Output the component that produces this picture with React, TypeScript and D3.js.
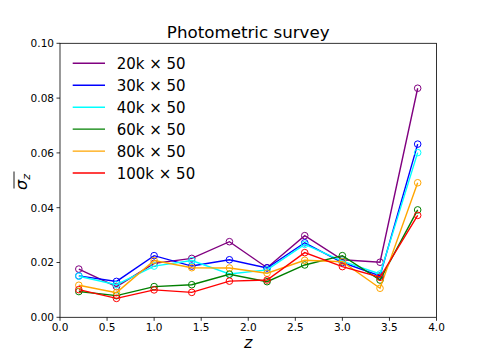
import React from "react";
import * as d3 from "d3";

const zValues = [0.2, 0.6, 1.0, 1.4, 1.8, 2.2, 2.6, 3.0, 3.4, 3.8];
const seriesNames = ["20k × 50", "30k × 50", "40k × 50", "60k × 50", "80k × 50", "100k × 50"];
const seriesColors = ["#800080", "#0000ff", "#00ffff", "#008000", "#ffa500", "#ff0000"];
const s20k = [0.0176, 0.0112, 0.0197, 0.0215, 0.0276, 0.0181, 0.0298, 0.0210, 0.0201, 0.0836];
const s30k = [0.0151, 0.0131, 0.0225, 0.0187, 0.0210, 0.0180, 0.0272, 0.0200, 0.0151, 0.0632];
const s40k = [0.0150, 0.0119, 0.0187, 0.0207, 0.0158, 0.0173, 0.0266, 0.0205, 0.0158, 0.0601];
const s60k = [0.0094, 0.0079, 0.0112, 0.0119, 0.0157, 0.0130, 0.0191, 0.0225, 0.0136, 0.0392];
const s80k = [0.0117, 0.0090, 0.0207, 0.0181, 0.0180, 0.0161, 0.0208, 0.0203, 0.0106, 0.0491];
const s100k = [0.0101, 0.0069, 0.0100, 0.0091, 0.0132, 0.0136, 0.0236, 0.0185, 0.0146, 0.0372];
const allSeries = [s20k, s30k, s40k, s60k, s80k, s100k];
const xTicks = [0, 0.5, 1.0, 1.5, 2.0, 2.5, 3.0, 3.5, 4.0];
const yTicks = [0, 0.02, 0.04, 0.06, 0.08, 0.1];

export default function App() {
  const W = 485, H = 363;
  const L = 60, R = 436.5, T = 43.3, B = 317.3;
  const x = d3.scaleLinear().domain([0, 4]).range([L, R]);
  const y = d3.scaleLinear().domain([0, 0.1]).range([B, T]);
  const line = d3.line<number>().x((_, i) => x(zValues[i])).y((d) => y(d));
  const font = "DejaVu Sans, sans-serif";
  return (
    <svg width={W} height={H} style={{ position: "absolute", left: 0, top: 0 }} fontFamily={font}>
      <rect x={0} y={0} width={W} height={H} fill="#fff" />
      {allSeries.map((s, k) => (
        <g key={k}>
          <path d={line(s) || ""} fill="none" stroke={seriesColors[k]} strokeWidth={1.4} />
          {s.map((v, i) => (
            <circle key={i} cx={x(zValues[i])} cy={y(v)} r={3.3} fill="none" stroke={seriesColors[k]} strokeWidth={1} />
          ))}
        </g>
      ))}
      <rect x={L} y={T} width={R - L} height={B - T} fill="none" stroke="#000" strokeWidth={0.8} />
      {xTicks.map((t) => (
        <g key={t}>
          <line x1={x(t)} x2={x(t)} y1={B} y2={B + 3.5} stroke="#000" strokeWidth={0.8} />
          <text x={x(t)} y={B + 13.5} fontSize={10.5} textAnchor="middle">{t.toFixed(1)}</text>
        </g>
      ))}
      {yTicks.map((t) => (
        <g key={t}>
          <line x1={L} x2={L - 3.5} y1={y(t)} y2={y(t)} stroke="#000" strokeWidth={0.8} />
          <text x={L - 6} y={y(t) + 3.8} fontSize={10.5} textAnchor="end">{t.toFixed(2)}</text>
        </g>
      ))}
      <text x={(L + R) / 2} y={38} fontSize={16.7} textAnchor="middle">Photometric survey</text>
      <text x={(L + R) / 2} y={348} fontSize={16} fontStyle="italic" textAnchor="middle">z</text>
      <g transform="translate(27,180) rotate(-90)">
        <text x={-2} y={0} fontSize={16} fontStyle="italic" textAnchor="middle">σ<tspan fontSize={11} dy={3}>z</tspan></text>
        <line x1={-8.5} x2={8.5} y1={-13} y2={-13} stroke="#000" strokeWidth={0.9} />
      </g>
      {seriesNames.map((n, k) => (
        <g key={n} transform={`translate(0,${63.3 + k * 21.95})`}>
          <line x1={72.7} x2={105} y1={0} y2={0} stroke={seriesColors[k]} strokeWidth={1.4} />
          <text x={116.7} y={5.5} fontSize={15}>{n}</text>
        </g>
      ))}
    </svg>
  );
}
